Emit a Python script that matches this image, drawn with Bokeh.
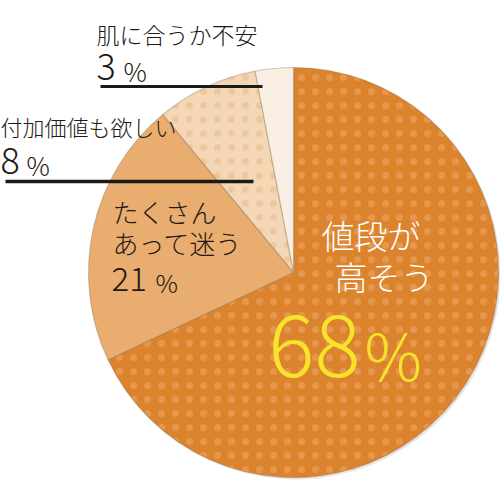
import math
from bokeh.plotting import figure
from bokeh.models import Range1d, Label, ColumnDataSource
from bokeh.embed import file_html
from bokeh.resources import INLINE

# ---- data ----
categories = ["値段が高そう", "たくさんあって迷う", "付加価値も欲しい", "肌に合うか不安"]
values = [68, 21, 8, 3]
slice_colors = ["#DB832D", "#E9AD6F", "#F3D7B6", "#FAEFE3"]
dot_colors = ["#E69B52", "#E9AD6F", "#ECC699", "#FAEFE3"]
dot_alpha = [0.85, 0.0, 0.85, 0.0]

FONT = "Noto Sans CJK JP Light, Noto Sans CJK JP"
W, H = 500, 481
cx, cy, R = 293, 209, 205

total = sum(values)
starts, ends = [], []
cum = 0
for v in values:
    starts.append(math.pi / 2 - 2 * math.pi * cum / total)
    cum += v
    ends.append(math.pi / 2 - 2 * math.pi * cum / total)

src = ColumnDataSource(dict(
    cat=categories, val=values, start=starts, end=ends,
    color=slice_colors, hcolor=dot_colors, halpha=dot_alpha,
))

p = figure(width=W, height=H, output_backend="svg", toolbar_location=None,
           x_range=Range1d(0, W), y_range=Range1d(0, H), min_border=0)
p.axis.visible = False
p.grid.visible = False
p.outline_line_color = None
p.background_fill_color = "white"
p.border_fill_color = "white"

# soft shadow
p.wedge(x=cx + 2, y=cy - 2, radius=R, start_angle="start", end_angle="end",
        direction="clock", source=src, fill_color="#7a6a5a", fill_alpha=0.18,
        line_color=None)
p.wedge(x=cx, y=cy, radius=R, start_angle="start", end_angle="end",
        direction="clock", source=src, fill_color="color", line_color="#8a6a50",
        line_alpha=0.35, line_width=1.2,
        hatch_pattern="dot", hatch_scale=14, hatch_color="hcolor",
        hatch_alpha="halpha", hatch_weight=1)

TXT = "#231815"

def lab(x, y, t, size, color=TXT):
    p.add_layout(Label(x=x, y=y, text=t, text_font=FONT,
                       text_font_size=f"{size}px", text_color=color,
                       text_baseline="middle", text_align="left"))

# 3% label (top)
lab(96, 448, categories[3], 23)
lab(96, 415, str(values[3]), 36)
lab(123, 411, "%", 26)
p.segment(x0=[100], y0=[395], x1=[262], y1=[395], line_color="#1a1a1a", line_width=3)

# 8% label
lab(0, 356, categories[2], 22)
lab(0, 321, str(values[2]), 36)
lab(26, 317, "%", 26)
p.segment(x0=[5], y0=[300], x1=[253], y1=[300], line_color="#1a1a1a", line_width=3.5)

# 21% label
lab(112, 270, "たくさん", 26)
lab(112, 239, "あって迷う", 26)
lab(111, 203, str(values[1]), 33)
lab(155, 200, "%", 25)

# 68% label
lab(321, 247, "値段が", 33, color="white")
lab(334, 206, "高そう", 33, color="white")
lab(268, 136, str(values[0]), 86, color="#F7E32B")
lab(364, 129, "%", 64, color="#F7E32B")

open("out.html", "w").write(file_html(p, INLINE))
